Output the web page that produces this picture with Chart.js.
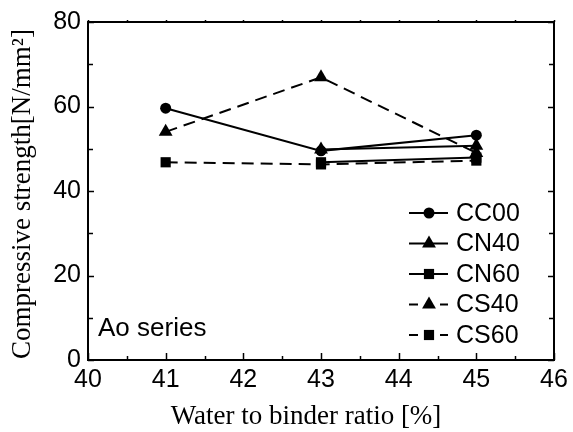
<!DOCTYPE html>
<html>
<head>
<meta charset="utf-8">
<script src="https://cdn.jsdelivr.net/npm/chart.js@4/dist/chart.umd.min.js"></script>
<style>
html,body{margin:0;padding:0;background:#fff;}
canvas{display:block;}
</style>
</head>
<body>
<canvas id="c" width="573" height="432"></canvas>
<script>
const xValues = [41, 43, 45];
const seriesNames = ['CC00', 'CN40', 'CN60', 'CS40', 'CS60'];
const cc00 = [59.6, 49.5, 53.2];
const cn40 = [null, 49.8, 50.7];
const cn60 = [null, 46.8, 47.9];
const cs40 = [54.0, 66.9, 49.0];
const cs60 = [46.8, 46.3, 47.2];
const xTicks = [40, 41, 42, 43, 44, 45, 46];
const yTicks = [0, 20, 40, 60, 80];
const noteText = 'Ao series';
const xTitle = 'Water to binder ratio [%]';
const yTitle = 'Compressive strength[N/mm²]';

const seriesValues = [cc00, cn40, cn60, cs40, cs60];
const styles = [
  {pointStyle: 'circle', r: 5.5, dash: []},
  {pointStyle: 'triangle', r: 8, dash: []},
  {pointStyle: 'rect', r: 7.2, dash: []},
  {pointStyle: 'triangle', r: 8, dash: [12, 7]},
  {pointStyle: 'rect', r: 7.2, dash: [12, 7]}
];
const SANS = '"Liberation Sans", Arial, sans-serif';
const SERIF = '"Liberation Serif", "Times New Roman", serif';

function pts(vals) {
  const out = [];
  vals.forEach((v, i) => { if (v !== null) out.push({x: xValues[i], y: v}); });
  return out;
}

const datasets = seriesNames.map((name, i) => ({
  label: name,
  data: pts(seriesValues[i]),
  borderColor: '#000',
  backgroundColor: '#000',
  borderWidth: 2,
  borderDash: styles[i].dash,
  pointStyle: styles[i].pointStyle,
  pointRadius: styles[i].r,
  pointHoverRadius: styles[i].r,
  pointBorderWidth: 0,
  pointBackgroundColor: '#000',
  tension: 0,
  fill: false
}));

function drawMarker(ctx, style, x, y, r) {
  ctx.beginPath();
  if (style === 'circle') {
    ctx.arc(x, y, r, 0, Math.PI * 2);
  } else if (style === 'triangle') {
    ctx.moveTo(x, y - r);
    ctx.lineTo(x + r * Math.sqrt(3) / 2, y + r / 2);
    ctx.lineTo(x - r * Math.sqrt(3) / 2, y + r / 2);
    ctx.closePath();
  } else {
    const s = Math.SQRT1_2 * r;
    ctx.rect(x - s, y - s, 2 * s, 2 * s);
  }
  ctx.fill();
}

const framePlugin = {
  id: 'frame',
  afterDatasetsDraw(chart) {
    const ctx = chart.ctx;
    const a = chart.chartArea;
    const xs = chart.scales.x, ys = chart.scales.y;
    ctx.save();
    ctx.strokeStyle = '#000';
    ctx.lineWidth = 2;
    ctx.setLineDash([]);
    ctx.strokeRect(a.left, a.top, a.right - a.left, a.bottom - a.top);
    ctx.lineWidth = 1.5;
    for (let v = 40; v <= 46.001; v += 0.5) {
      const px = Math.round(xs.getPixelForValue(v)) + 0.5;
      const len = Math.abs(v - Math.round(v)) < 1e-6 ? 7 : 4;
      ctx.beginPath();
      ctx.moveTo(px, a.bottom);
      ctx.lineTo(px, a.bottom - len);
      ctx.stroke();
      ctx.beginPath();
      ctx.moveTo(px, a.top);
      ctx.lineTo(px, a.top - 2);
      ctx.stroke();
    }
    for (let v = 0; v <= 80.001; v += 10) {
      const py = Math.round(ys.getPixelForValue(v)) + 0.5;
      const len = (v % 20 === 0) ? 6 : 5;
      ctx.beginPath();
      ctx.moveTo(a.left, py);
      ctx.lineTo(a.left + len, py);
      ctx.moveTo(a.right, py);
      ctx.lineTo(a.right - len, py);
      ctx.stroke();
    }
    ctx.fillStyle = '#000';
    ctx.textBaseline = 'middle';
    ctx.textAlign = 'left';
    ctx.font = '26px ' + SANS;
    ctx.fillText(noteText, 98, 329);
    ctx.font = '25px ' + SANS;
    const rows = [213, 243.5, 274, 304.5, 335];
    datasets.forEach((ds, i) => {
      const y = rows[i];
      ctx.lineWidth = 2;
      ctx.beginPath();
      if (styles[i].dash.length) {
        ctx.moveTo(409, y); ctx.lineTo(418, y);
        ctx.moveTo(440, y); ctx.lineTo(448, y);
      } else {
        ctx.moveTo(409, y); ctx.lineTo(448, y);
      }
      ctx.stroke();
      drawMarker(ctx, styles[i].pointStyle, 429, y, styles[i].r);
      ctx.fillText(ds.label, 456, y + 1);
    });
    // axis titles
    ctx.font = '27px ' + SERIF;
    ctx.textAlign = 'center';
    ctx.fillText(xTitle, 306, 417);
    ctx.save();
    ctx.translate(23, 194);
    ctx.rotate(-Math.PI / 2);
    ctx.fillText(yTitle, 0, 0);
    ctx.restore();
    ctx.restore();
  }
};

new Chart(document.getElementById('c'), {
  type: 'line',
  data: {datasets},
  options: {
    responsive: false,
    animation: false,
    events: [],
    layout: {padding: {top: 19, right: 19, left: 0, bottom: 0}},
    plugins: {legend: {display: false}, tooltip: {enabled: false}},
    scales: {
      x: {
        type: 'linear',
        min: 40, max: 46,
        afterFit(s) { s.height = 72; },
        afterBuildTicks(s) { s.ticks = xTicks.map(v => ({value: v})); },
        border: {display: false},
        grid: {display: false, drawTicks: false},
        ticks: {
          color: '#000',
          padding: 5,
          font: {family: SANS, size: 25},
          maxRotation: 0
        },
        title: {display: false}
      },
      y: {
        min: 0, max: 80,
        afterFit(s) { s.width = 88; },
        afterBuildTicks(s) { s.ticks = yTicks.map(v => ({value: v})); },
        border: {display: false},
        grid: {display: false, drawTicks: false},
        ticks: {
          color: '#000',
          padding: 7,
          font: {family: SANS, size: 25}
        },
        title: {display: false}
      }
    }
  },
  plugins: [framePlugin]
});
</script>
</body>
</html>
